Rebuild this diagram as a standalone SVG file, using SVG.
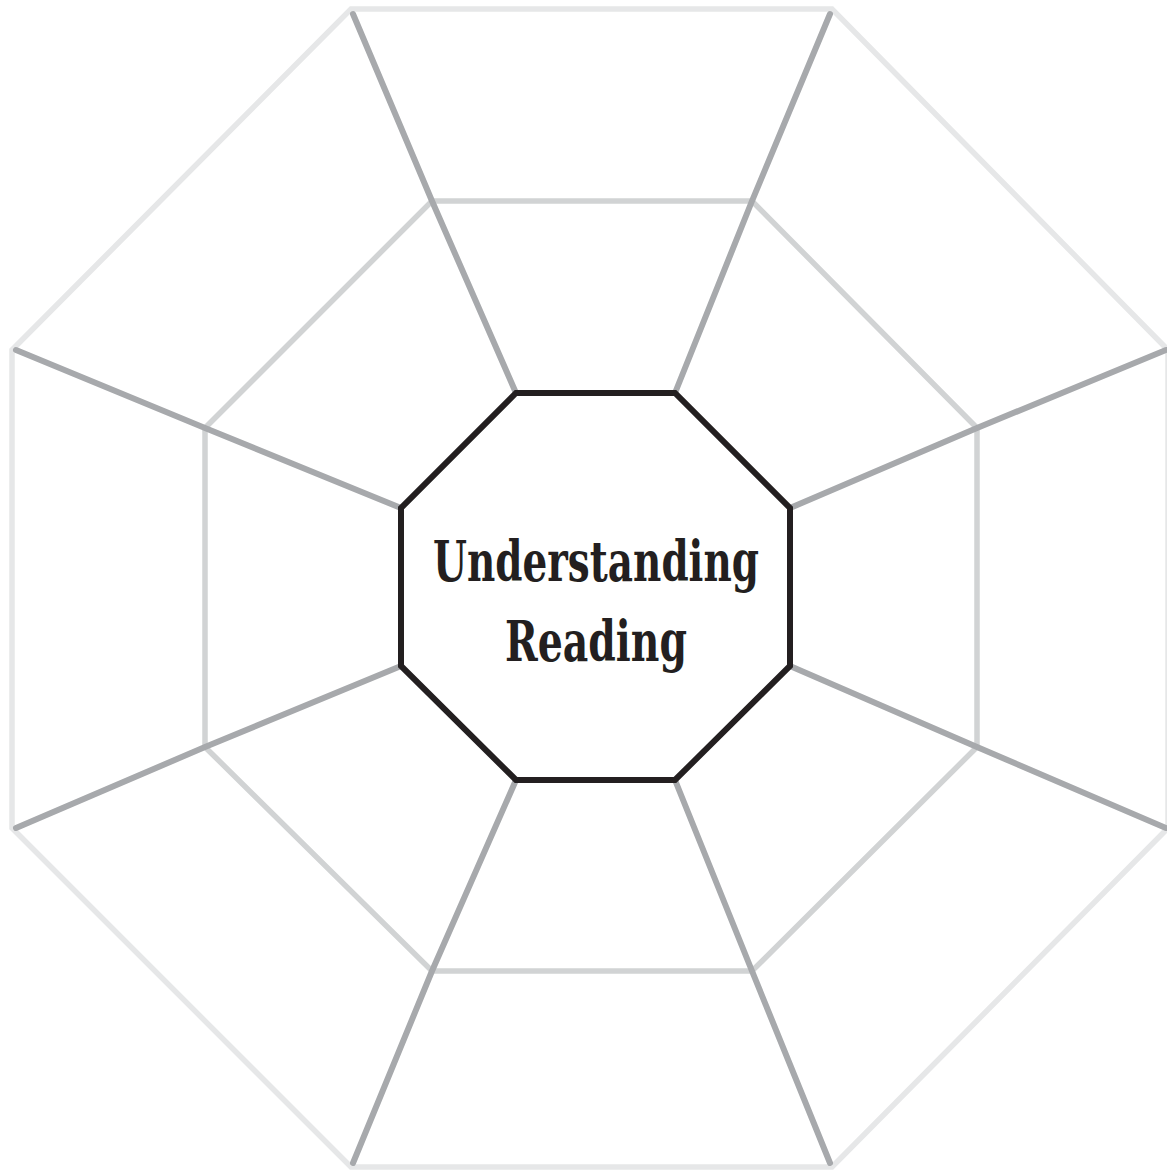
<svg xmlns="http://www.w3.org/2000/svg" width="1167" height="1171" viewBox="0 0 1167 1171">
<style>
.outer{fill:none;stroke:#e6e7e8;stroke-width:5.5;stroke-linejoin:miter}
.mid{fill:none;stroke:#d1d3d4;stroke-width:5.5;stroke-linejoin:miter}
.spoke{fill:none;stroke:#a7a9ac;stroke-width:6;stroke-linecap:round}
.inner{fill:#fff;stroke:#231f20;stroke-width:6;stroke-linejoin:miter}
.lbl{font-family:"DejaVu Serif","Liberation Serif",serif;font-weight:bold;fill:#231f20;text-anchor:middle}
</style>
<rect width="1167" height="1171" fill="#fff"/>
<g id="outer-ring">
<polygon class="outer" points="351,9 832,9 1168,350 1168,828 832,1167 351,1167 12,828 12,350"/>
</g>
<g id="middle-ring">
<polygon class="mid" points="432,201 752,201 977,428 977,747 752,971 432,971 205,747 205,428"/>
</g>
<g id="connectors">
<polyline class="spoke" points="516,393 432,201 353,14"/>
<polyline class="spoke" points="675,393 752,201 830,14"/>
<polyline class="spoke" points="790,508 977,428 1166,350"/>
<polyline class="spoke" points="790,666 977,747 1166,828"/>
<polyline class="spoke" points="675,780 752,971 830,1163"/>
<polyline class="spoke" points="516,780 432,971 353,1163"/>
<polyline class="spoke" points="401,666 205,747 16,828"/>
<polyline class="spoke" points="401,508 205,428 16,350"/>
</g>
<g id="center-node">
<polygon class="inner" points="516,393 675,393 790,508 790,666 675,780 516,780 401,666 401,508"/>
<text class="lbl" x="596" y="581" font-size="56" textLength="326" lengthAdjust="spacingAndGlyphs">Understanding</text>
<text class="lbl" x="596" y="661" font-size="56" textLength="182" lengthAdjust="spacingAndGlyphs">Reading</text>
</g>
</svg>
